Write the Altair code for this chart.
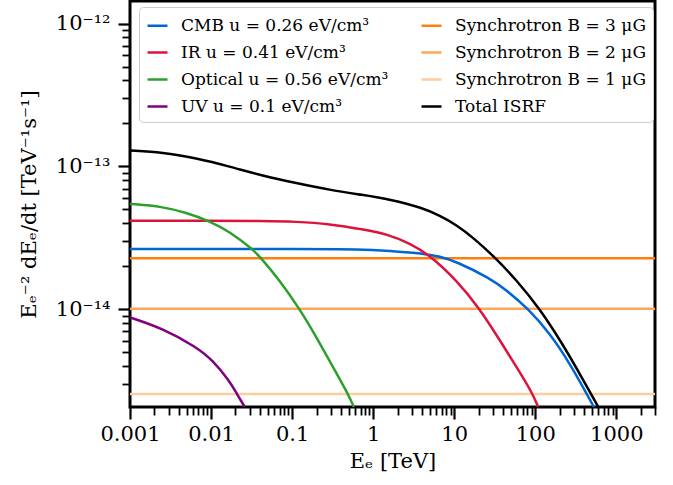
import altair as alt
import pandas as pd

# Electron energy-loss rates, E^-2 dE/dt [TeV^-1 s^-1], against electron energy [TeV]
cmb_energy = [0.001, 0.01, 0.1, 0.7464, 1.596, 4.121, 6.622, 10.64, 27.48, 44.16, 81.66, 151.4, 267.3, 429.5, 528.4]
cmb_loss = [2.64e-14, 2.64e-14, 2.64e-14, 2.64e-14, 2.56e-14, 2.47e-14, 2.34e-14, 2.16e-14, 1.65e-14, 1.36e-14,
            1.01e-14, 6.78e-15, 4.17e-15, 2.57e-15, 2.07e-15]

ir_energy = [0.001, 0.01, 0.04345, 0.1125, 0.2897, 0.7464, 1.596, 2.818, 4.977, 10.64, 20.65, 36.48, 64.42, 92.47, 108.6]
ir_loss = [4.16e-14, 4.16e-14, 4.16e-14, 4.11e-14, 3.96e-14, 3.63e-14, 3.32e-14, 2.90e-14, 2.40e-14, 1.60e-14,
           1.01e-14, 6.08e-15, 3.63e-15, 2.57e-15, 2.07e-15]

optical_energy = [0.001, 0.00253, 0.00491, 0.00953, 0.01687, 0.03273, 0.0415, 0.06982, 0.1233, 0.1982, 0.3184,
                  0.4875, 0.578]
optical_loss = [5.47e-14, 5.24e-14, 4.75e-14, 4.16e-14, 3.50e-14, 2.63e-14, 2.28e-14, 1.60e-14, 1.01e-14, 6.43e-15,
                3.95e-15, 2.57e-15, 2.07e-15]

uv_energy = [0.001, 0.00253, 0.00653, 0.01048, 0.01683, 0.02075, 0.02606]
uv_loss = [8.77e-15, 7.35e-15, 5.46e-15, 4.40e-15, 3.15e-15, 2.57e-15, 2.07e-15]

total_energy = [0.001, 0.00253, 0.00653, 0.01687, 0.04345, 0.1125, 0.2897, 0.7464, 1.596, 4.121, 6.622, 10.64,
                17.10, 32.58, 58.61, 113.8, 221.3, 389.9, 598.4]
total_loss = [1.294e-13, 1.259e-13, 1.143e-13, 1.0e-13, 8.59e-14, 7.64e-14, 6.85e-14, 6.32e-14, 5.90e-14, 5.12e-14,
              4.52e-14, 3.90e-14, 3.18e-14, 2.28e-14, 1.60e-14, 1.01e-14, 5.62e-15, 3.21e-15, 2.07e-15]

# Synchrotron losses are energy independent in this representation
synch_labels = ["Synchrotron B = 3 μG", "Synchrotron B = 2 μG", "Synchrotron B = 1 μG"]
synch_loss = [2.28e-14, 1.01e-14, 2.55e-15]

curve_labels = ["CMB u = 0.26 eV/cm³", "IR u = 0.41 eV/cm³", "Optical u = 0.56 eV/cm³", "UV u = 0.1 eV/cm³"]
total_label = "Total ISRF"

legend_order = curve_labels + synch_labels + [total_label]
legend_colors = ["#0066d4", "#dc143c", "#2ca02c", "#800080", "#ff7f0e", "#ffa556", "#ffcc9f", "#000000"]

x_ticks = [k * 10.0 ** p for p in range(-3, 4) for k in range(1, 10) if k * 10.0 ** p <= 3000]
y_ticks = [k * 10.0 ** p for p in range(-15, -11) for k in range(1, 10) if 2.1e-15 < k * 10.0 ** p < 1.4e-12]

rows = []
for name, es, vs in zip(curve_labels,
                        [cmb_energy, ir_energy, optical_energy, uv_energy],
                        [cmb_loss, ir_loss, optical_loss, uv_loss]):
    rows += [{"series": name, "energy": e, "value": v} for e, v in zip(es, vs)]
rows += [{"series": total_label, "energy": e, "value": v} for e, v in zip(total_energy, total_loss)]
curves_df = pd.DataFrame(rows)
synch_df = pd.DataFrame({"series": synch_labels, "value": synch_loss})

FONT = "DejaVu Serif"
IS_DECADE = "abs(log(datum.value) / LN10 - round(log(datum.value) / LN10)) < 0.001"

xscale = alt.Scale(type="log", domain=[0.001, 3000], nice=False)
yscale = alt.Scale(type="log", domain=[2.07e-15, 1.44e-12], nice=False)
cscale = alt.Scale(domain=legend_order, range=legend_colors)

legend = alt.Legend(
    title=None, orient="none", legendX=9, legendY=6, columns=2,
    symbolType="stroke", symbolSize=400, symbolStrokeWidth=2.5,
    labelFont=FONT, labelFontSize=17, labelLimit=400, labelOffset=12,
    rowPadding=7, columnPadding=27, padding=7,
    fillColor="white", strokeColor="#cccccc", cornerRadius=4,
)

# long ticks on decades, short ones in between
tick_size = {"condition": {"test": IS_DECADE, "value": 12}, "value": 8}
tick_width = {"condition": {"test": IS_DECADE, "value": 2.2}, "value": 1.8}

x_axis = alt.Axis(values=x_ticks, orient="bottom", title="Eₑ [TeV]",
                  labelExpr=f"{IS_DECADE} ? format(datum.value, '~g') : ''",
                  tickSize=tick_size, tickWidth=tick_width,
                  labelPadding=4, titlePadding=6,
                  labelFlush=False, labelOverlap=False, grid=False, domain=False)
y_axis = alt.Axis(values=y_ticks, orient="left", title="Eₑ⁻² dEₑ/dt [TeV⁻¹s⁻¹]",
                  labelExpr=f"{IS_DECADE} ? (datum.value < 5e-14 ? '10⁻¹⁴' : datum.value < 5e-13 ? '10⁻¹³' : '10⁻¹²') : ''",
                  tickSize=tick_size, tickWidth=tick_width,
                  labelPadding=8, titlePadding=16,
                  labelFlush=False, labelOverlap=False, grid=False, domain=False)

color = alt.Color("series:N", scale=cscale, legend=legend)

synch = alt.Chart(synch_df).mark_rule(strokeWidth=2.5).encode(
    y=alt.Y("value:Q", scale=yscale, axis=y_axis),
    color=color,
)

curves = alt.Chart(curves_df).mark_line(strokeWidth=2.5, clip=True, interpolate="basis").encode(
    x=alt.X("energy:Q", scale=xscale, axis=x_axis),
    y=alt.Y("value:Q", scale=yscale, axis=y_axis),
    color=color,
    order=alt.Order("series:N"),
)

chart = (
    alt.layer(synch, curves)
    .properties(width=525, height=406, autosize=alt.AutoSizeParams(type="none"),
                padding={"left": 130, "top": 1, "right": 18, "bottom": 78})
    .configure_view(stroke="black", strokeWidth=3)
    .configure_axis(labelFont=FONT, titleFont=FONT, labelFontSize=21, titleFontSize=21,
                    labelColor="black", titleColor="black", tickColor="black", titleFontWeight="normal")
)

chart.save("out.html", embed_options={"renderer": "svg", "actions": False})
